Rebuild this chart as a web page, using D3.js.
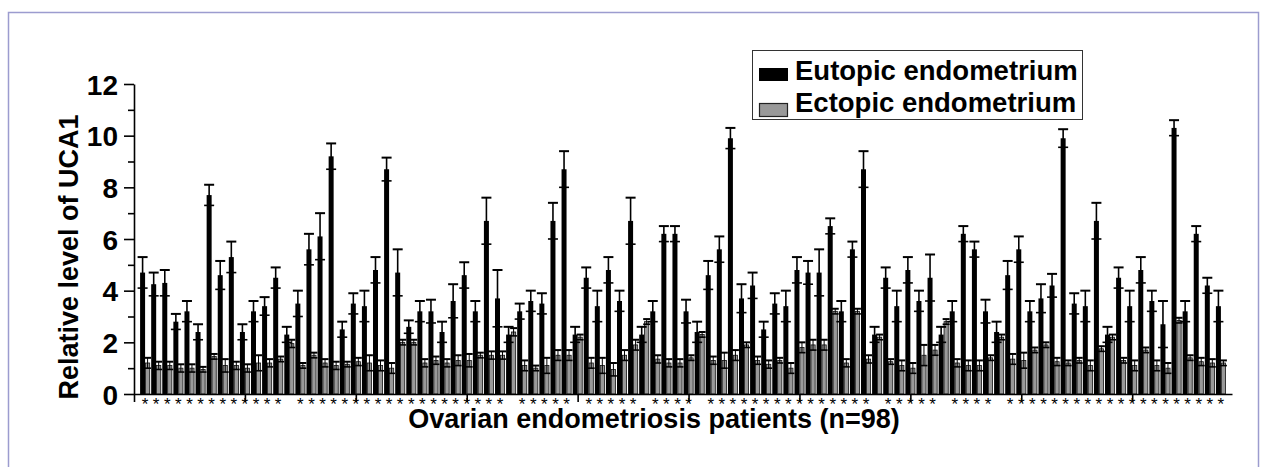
<!DOCTYPE html>
<html>
<head>
<meta charset="utf-8">
<script src="https://cdn.jsdelivr.net/npm/d3@7"></script>
<style>
  body { margin: 0; background: #fff; }
  svg { display: block; }
  text { font-family: "Liberation Sans", Arial, sans-serif; }
</style>
</head>
<body>
<svg width="1268" height="467"></svg>
<script>
// relative UCA1 level per patient (1..98)
const eutopic = [4.7, 4.25, 4.3, 2.8, 3.2, 2.4, 7.7, 4.6, 5.3, 2.4,
    3.2, 3.4, 4.5, 2.3, 3.5, 5.6, 6.1, 9.2, 2.5, 3.5,
    3.4, 4.8, 8.7, 4.7, 2.6, 3.2, 3.2, 2.4, 3.6, 4.6,
    3.2, 6.7, 3.7, 2.3, 3.2, 3.6, 3.5, 6.7, 8.7, 2.3,
    4.5, 3.4, 4.8, 3.6, 6.7, 2.3, 3.2, 6.2, 6.2, 3.2,
    2.4, 4.6, 5.6, 9.9, 3.7, 4.2, 2.5, 3.5, 3.4, 4.8,
    4.7, 4.7, 6.5, 3.2, 5.6, 8.7, 2.3, 4.5, 3.4, 4.8,
    3.6, 4.5, 2.3, 3.2, 6.2, 5.6, 3.2, 2.4, 4.6, 5.6,
    3.2, 3.7, 4.2, 9.9, 3.5, 3.4, 6.7, 2.3, 4.5, 3.4,
    4.8, 3.6, 2.7, 10.3, 3.2, 6.2, 4.2, 3.4]
const eutopicErr = [0.6, 0.45, 0.5, 0.3, 0.4, 0.3, 0.4, 0.55, 0.6, 0.3,
    0.4, 0.35, 0.4, 0.3, 0.5, 0.6, 0.9, 0.5, 0.3, 0.4,
    0.6, 0.5, 0.45, 0.9, 0.25, 0.4, 0.45, 0.4, 0.65, 0.5,
    0.4, 0.9, 1.1, 0.3, 0.3, 0.4, 0.4, 0.7, 0.7, 0.3,
    0.4, 0.6, 0.5, 0.4, 0.9, 0.3, 0.4, 0.3, 0.3, 0.45,
    0.4, 0.55, 0.5, 0.4, 0.55, 0.5, 0.3, 0.4, 0.6, 0.5,
    0.45, 0.9, 0.3, 0.4, 0.3, 0.7, 0.3, 0.4, 0.6, 0.5,
    0.4, 0.9, 0.3, 0.4, 0.3, 0.3, 0.45, 0.4, 0.55, 0.5,
    0.4, 0.55, 0.45, 0.35, 0.4, 0.6, 0.7, 0.3, 0.4, 0.6,
    0.5, 0.4, 0.9, 0.3, 0.4, 0.3, 0.3, 0.6]
const ectopic = [1.2, 1.1, 1.1, 1.0, 1.0, 0.95, 1.45, 1.1, 1.1, 1.0,
    1.2, 1.2, 1.35, 1.95, 1.1, 1.5, 1.2, 1.1, 1.15, 1.25,
    1.2, 1.1, 1.0, 2.0, 2.0, 1.2, 1.3, 1.2, 1.3, 1.3,
    1.5, 1.5, 1.5, 2.4, 1.1, 1.0, 1.1, 1.5, 1.5, 2.2,
    1.2, 1.1, 0.95, 1.5, 1.9, 2.8, 1.35, 1.2, 1.2, 1.4,
    2.3, 1.3, 1.3, 1.5, 1.9, 1.3, 1.15, 1.3, 1.0, 1.8,
    1.9, 1.9, 3.2, 1.2, 3.2, 1.35, 2.2, 1.25, 1.1, 1.0,
    1.5, 1.7, 2.8, 1.2, 1.1, 1.1, 1.4, 2.2, 1.35, 1.3,
    1.7, 1.9, 1.25, 1.2, 1.3, 1.1, 1.75, 2.2, 1.3, 1.1,
    1.7, 1.1, 1.0, 2.85, 1.4, 1.25, 1.2, 1.2]
const ectopicErr = [0.2, 0.15, 0.15, 0.15, 0.15, 0.1, 0.1, 0.25, 0.15, 0.15,
    0.3, 0.15, 0.1, 0.15, 0.1, 0.1, 0.15, 0.15, 0.1, 0.15,
    0.3, 0.2, 0.2, 0.1, 0.1, 0.15, 0.15, 0.15, 0.2, 0.25,
    0.1, 0.15, 0.15, 0.15, 0.2, 0.1, 0.3, 0.2, 0.2, 0.1,
    0.2, 0.3, 0.25, 0.2, 0.2, 0.1, 0.15, 0.15, 0.15, 0.1,
    0.1, 0.15, 0.3, 0.2, 0.1, 0.15, 0.15, 0.1, 0.2, 0.2,
    0.2, 0.2, 0.1, 0.15, 0.1, 0.15, 0.1, 0.1, 0.2, 0.2,
    0.4, 0.2, 0.1, 0.15, 0.2, 0.2, 0.1, 0.1, 0.2, 0.3,
    0.1, 0.1, 0.15, 0.1, 0.1, 0.2, 0.1, 0.1, 0.1, 0.2,
    0.1, 0.2, 0.2, 0.1, 0.1, 0.15, 0.15, 0.1]
// 1 = asterisk under the patient
const significant = [1, 1, 1, 1, 1, 1, 1, 1, 1, 1,
    1, 1, 1, 0, 1, 1, 1, 1, 1, 1,
    1, 1, 1, 1, 1, 1, 1, 1, 1, 1,
    1, 1, 1, 0, 1, 1, 1, 1, 1, 0,
    1, 1, 1, 1, 1, 0, 1, 1, 1, 1,
    0, 1, 1, 1, 1, 1, 1, 1, 1, 1,
    1, 1, 1, 1, 1, 1, 0, 1, 1, 1,
    1, 1, 0, 1, 1, 1, 1, 0, 1, 1,
    1, 1, 1, 1, 1, 1, 1, 1, 1, 1,
    1, 1, 1, 1, 1, 1, 1, 1]
const yTicks = [0, 1, 2, 3, 4, 5, 6, 7, 8, 9, 10, 11, 12]
const xTicks = [0, 10, 20, 30, 40, 50, 60, 70, 80, 90]
const seriesNames = ["Eutopic endometrium", "Ectopic endometrium"]
const xTitle = "Ovarian endometriosis patients (n=98)"
const yTitle = "Relative level of UCA1"

const svg = d3.select("svg")

// frame round the figure
svg.append("rect")
    .attr("x", 8.5).attr("y", 12.5)
    .attr("width", 1250).attr("height", 470)
    .attr("fill", "none")
    .attr("stroke", "#9c9ccf")
    .attr("stroke-width", 1.5)

const x = d3.scaleLinear().domain([0, 99]).range([134, 1232])
const y = d3.scaleLinear().domain([0, 12]).range([394, 84])

const data = eutopic.map((v, i) => ({
    id: i + 1, eu: v, euErr: eutopicErr[i],
    ec: ectopic[i], ecErr: ectopicErr[i], sig: significant[i]
}))

const barW = 5
const g = svg.append("g")

// black bars
g.selectAll("rect.eu").data(data).enter().append("rect")
    .attr("class", "eu")
    .attr("x", d => x(d.id) - barW)
    .attr("y", d => y(d.eu))
    .attr("width", barW)
    .attr("height", d => y(0) - y(d.eu))
    .attr("fill", "#000")

// grey bars
g.selectAll("rect.ec").data(data).enter().append("rect")
    .attr("class", "ec")
    .attr("x", d => x(d.id) + 0.4)
    .attr("y", d => y(d.ec))
    .attr("width", barW - 0.8)
    .attr("height", d => y(0) - y(d.ec))
    .attr("fill", "#999")
    .attr("stroke", "#111")
    .attr("stroke-width", 0.8)

function errorBars(cls, cx, val, err, cap, sw) {
    const eg = g.selectAll("g." + cls).data(data).enter().append("g")
        .attr("class", cls)
        .attr("stroke", "#000")
    eg.append("line")
        .attr("x1", cx).attr("x2", cx)
        .attr("y1", d => y(val(d) - err(d))).attr("y2", d => y(val(d) + err(d)))
        .attr("stroke-width", sw)
    eg.append("line")
        .attr("x1", d => cx(d) - cap / 2).attr("x2", d => cx(d) + cap / 2)
        .attr("y1", d => y(val(d) + err(d))).attr("y2", d => y(val(d) + err(d)))
        .attr("stroke-width", 2)
    eg.append("line")
        .attr("x1", d => cx(d) - cap / 2).attr("x2", d => cx(d) + cap / 2)
        .attr("y1", d => y(val(d) - err(d))).attr("y2", d => y(val(d) - err(d)))
        .attr("stroke-width", 1.6)
}
errorBars("ebEu", d => x(d.id) - barW / 2, d => d.eu, d => d.euErr, 10, 1.6)
errorBars("ebEc", d => x(d.id) + barW / 2, d => d.ec, d => d.ecErr, 7, 1)

// asterisks
g.selectAll("text.sig").data(data.filter(d => d.sig == 1)).enter().append("text")
    .attr("class", "sig")
    .attr("x", d => x(d.id))
    .attr("y", 410)
    .attr("text-anchor", "middle")
    .attr("font-size", "17px")
    .text("*")

// y axis
const yAxis = svg.append("g")
    .attr("transform", `translate(${x(0)},0)`)
    .call(d3.axisLeft(y).tickValues(yTicks).tickSizeOuter(0)
        .tickFormat(d => d % 2 == 0 ? d : ""))
yAxis.select(".domain").attr("stroke", "#000").attr("stroke-width", 1.6)
yAxis.selectAll(".tick line")
    .attr("x2", d => d % 2 == 0 ? -10 : -6)
    .attr("stroke", "#000").attr("stroke-width", 1.6)
yAxis.selectAll(".tick text")
    .attr("x", -16)
    .attr("dy", "0.36em")
    .attr("font-size", "28px")
    .attr("font-weight", "bold")
    .attr("font-family", "'Liberation Sans', Arial, sans-serif")
    .attr("fill", "#000")

// x axis, ticks only
const xAxis = svg.append("g")
    .attr("transform", `translate(0,${y(0)})`)
    .call(d3.axisBottom(x).tickValues(xTicks).tickSize(8).tickSizeOuter(0).tickFormat(""))
xAxis.select(".domain").attr("stroke", "#000").attr("stroke-width", 1.6)
xAxis.selectAll(".tick line").attr("stroke", "#000").attr("stroke-width", 1.6)

// titles
svg.append("text")
    .attr("transform", "translate(78,257) rotate(-90)")
    .attr("text-anchor", "middle")
    .attr("font-size", "27px")
    .attr("font-weight", "bold")
    .text(yTitle)

svg.append("text")
    .attr("x", 654).attr("y", 428)
    .attr("text-anchor", "middle")
    .attr("font-size", "27px")
    .attr("font-weight", "bold")
    .text(xTitle)

// legend
const lg = svg.append("g")
lg.append("rect")
    .attr("x", 752.5).attr("y", 50.5)
    .attr("width", 330).attr("height", 69)
    .attr("fill", "#fff")
    .attr("stroke", "#333")
    .attr("stroke-width", 1)
lg.append("rect")
    .attr("x", 759).attr("y", 68).attr("width", 29).attr("height", 13)
    .attr("fill", "#000")
lg.append("rect")
    .attr("x", 759.5).attr("y", 103.5).attr("width", 28).attr("height", 13)
    .attr("fill", "#999").attr("stroke", "#222").attr("stroke-width", 1.2)
lg.selectAll("text.lab").data(seriesNames).enter().append("text")
    .attr("class", "lab")
    .attr("x", 795)
    .attr("y", (d, i) => 80 + i * 32)
    .attr("font-size", "27.5px")
    .attr("font-weight", "bold")
    .text(d => d)
</script>
</body>
</html>
